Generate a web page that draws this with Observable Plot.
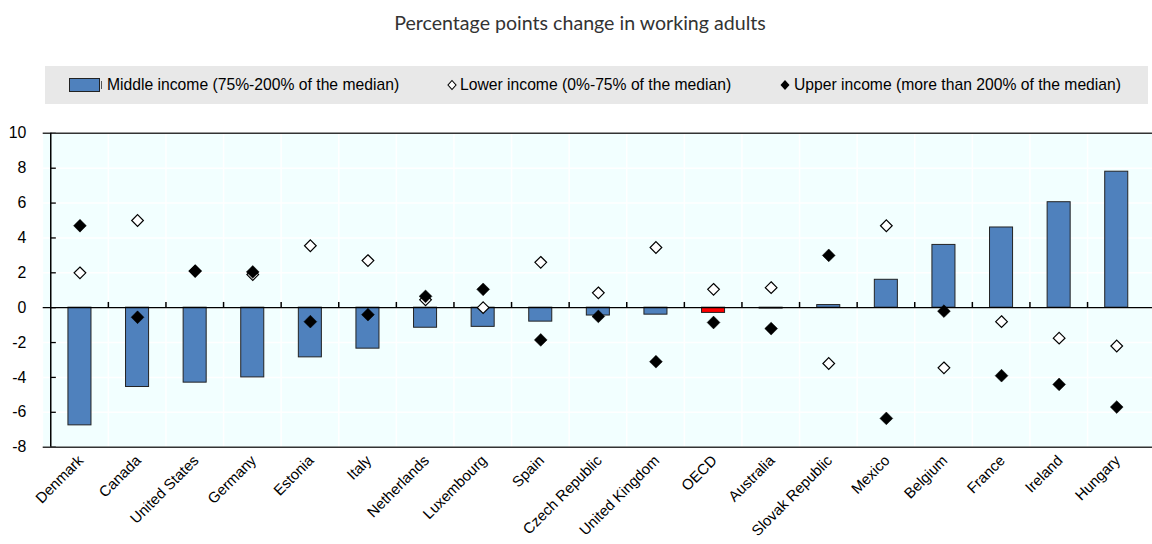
<!DOCTYPE html>
<html>
<head>
<meta charset="utf-8">
<script src="https://cdn.jsdelivr.net/npm/d3@7"></script>
<script src="https://cdn.jsdelivr.net/npm/@observablehq/plot@0.6"></script>
<style>
  body { margin: 0; background: #fff; width: 1152px; height: 544px; position: relative; overflow: hidden; }
  #title { position: absolute; top: 11px; left: 0; width: 1160px; text-align: center; font-family: Lato, sans-serif; font-size: 19.6px; color: #333; }
  #legend { position: absolute; top: 66px; left: 45px; width: 1103px; height: 38px; background: #e8e8e8; font-family: "Liberation Sans", Arial, sans-serif; font-size: 15.7px; color: #000; }
  .item { position: absolute; top: 10px; display: flex; align-items: center; white-space: nowrap; }
  #chart { position: absolute; top: 110px; left: 0; }
</style>
</head>
<body>
<div id="title">Percentage points change in working adults</div>
<div id="legend">
  <div class="item" style="left:24px"><svg width="34" height="16"><rect x="0.5" y="1.5" width="30" height="13" fill="#4f81bd" stroke="#222"/><line x1="32.5" y1="4" x2="32.5" y2="12" stroke="#555"/></svg><span style="margin-left:4px">Middle income (75%-200% of the median)</span></div>
  <div class="item" style="left:401px"><svg width="12" height="16"><path d="M6,3.5L10,8L6,12.5L2,8Z" fill="#fff" stroke="#000" stroke-width="1.1"/></svg><span style="margin-left:2px">Lower income (0%-75% of the median)</span></div>
  <div class="item" style="left:734px"><svg width="12" height="16"><path d="M6,3L10.5,8L6,13L1.5,8Z" fill="#000"/></svg><span style="margin-left:3px">Upper income (more than 200% of the median)</span></div>
</div>
<div id="chart"></div>
<script>
const countries = ["Denmark","Canada","United States","Germany","Estonia","Italy","Netherlands","Luxembourg","Spain","Czech Republic","United Kingdom","OECD","Australia","Slovak Republic","Mexico","Belgium","France","Ireland","Hungary"];
const middleIncome = [-6.75,-4.55,-4.3,-4.0,-2.85,-2.35,-1.15,-1.1,-0.8,-0.45,-0.4,-0.3,-0.05,0.15,1.6,3.6,4.6,6.05,7.8];
const lowerIncome  = [2.0,5.0,2.1,1.9,3.55,2.7,0.45,0.0,2.6,0.85,3.45,1.05,1.15,-3.2,4.7,-3.45,-0.8,-1.75,-2.2];
const upperIncome  = [4.7,-0.55,2.1,2.05,-0.8,-0.4,0.65,1.05,-1.85,-0.5,-3.1,-0.85,-1.2,3.0,-6.35,-0.2,-3.9,-4.4,-5.7];
const yTicks = [-8,-6,-4,-2,0,2,4,6,8,10];
const highlight = "OECD";

const data = countries.map((c, i) => ({country: c, middle: middleIncome[i], lower: lowerIncome[i], upper: upperIncome[i]}));

// The original chart is 1160px wide and cropped to 1152px on the right.
const W = 1160, H = 434, mL = 43, mR = 0, mT = 23, mB = 95;
const bw = (W - mL - mR) / countries.length;
const font = '"Liberation Sans", Arial, sans-serif';

const chart = Plot.plot({
  width: W, height: H,
  marginLeft: mL, marginRight: mR, marginTop: mT, marginBottom: mB,
  style: {fontFamily: font, fontSize: "15px", color: "#000", background: "transparent"},
  x: {type: "band", domain: countries, padding: 0, label: null},
  y: {domain: [-8, 10], label: null},
  marks: [
    Plot.frame({fill: "#f2ffff", stroke: null}),
    Plot.ruleY(yTicks.filter(t => t > -8 && t < 10), {y: d => d, stroke: "#fff", strokeWidth: 1.5}),
    Plot.ruleX(countries.slice(1), {x: d => d, dx: -bw / 2, y1: -8, y2: 10, stroke: "#fff", strokeWidth: 1.5}),
    Plot.barY(data, {x: "country", y: "middle", fill: d => d.country === highlight ? "#ff0000" : "#4f81bd", stroke: "#222", strokeWidth: 1, insetLeft: 17.4, insetRight: 17.4}),
    Plot.ruleY([0], {stroke: "#000", strokeWidth: 1.3}),
    Plot.ruleX(countries.slice(1), {x: d => d, dx: -bw / 2, y1: 0, y2: 0.3, stroke: "#000", strokeWidth: 1.5}),
    Plot.tickY(yTicks, {y: d => d, x: () => countries[0], insetRight: bw - 6, stroke: "#000", strokeWidth: 1.3}),
    Plot.ruleY([10, -8], {y: d => d, stroke: "#333", strokeWidth: 1.5}),
    Plot.ruleX(countries.slice(0, 1), {x: d => d, dx: -bw / 2, y1: -8, y2: 10, stroke: "#000", strokeWidth: 1.5}),
    Plot.dot(data, {x: "country", y: "lower", symbol: "diamond2", r: 5.3, fill: "#fff", stroke: "#000", strokeWidth: 1.2}),
    Plot.dot(data, {x: "country", y: "upper", symbol: "diamond2", r: 5.8, fill: "#000", stroke: "#000", strokeWidth: 0.5}),
    Plot.axisY({ticks: yTicks, tickSize: 0, tickPadding: 17, tickFormat: d => String(d), fontSize: 16, label: null}),
    Plot.axisX({tickSize: 0, tickRotate: -45, tickPadding: 11, dx: 1, fontSize: 15, label: null})
  ]
});
document.getElementById("chart").appendChild(chart);
</script>
</body>
</html>
